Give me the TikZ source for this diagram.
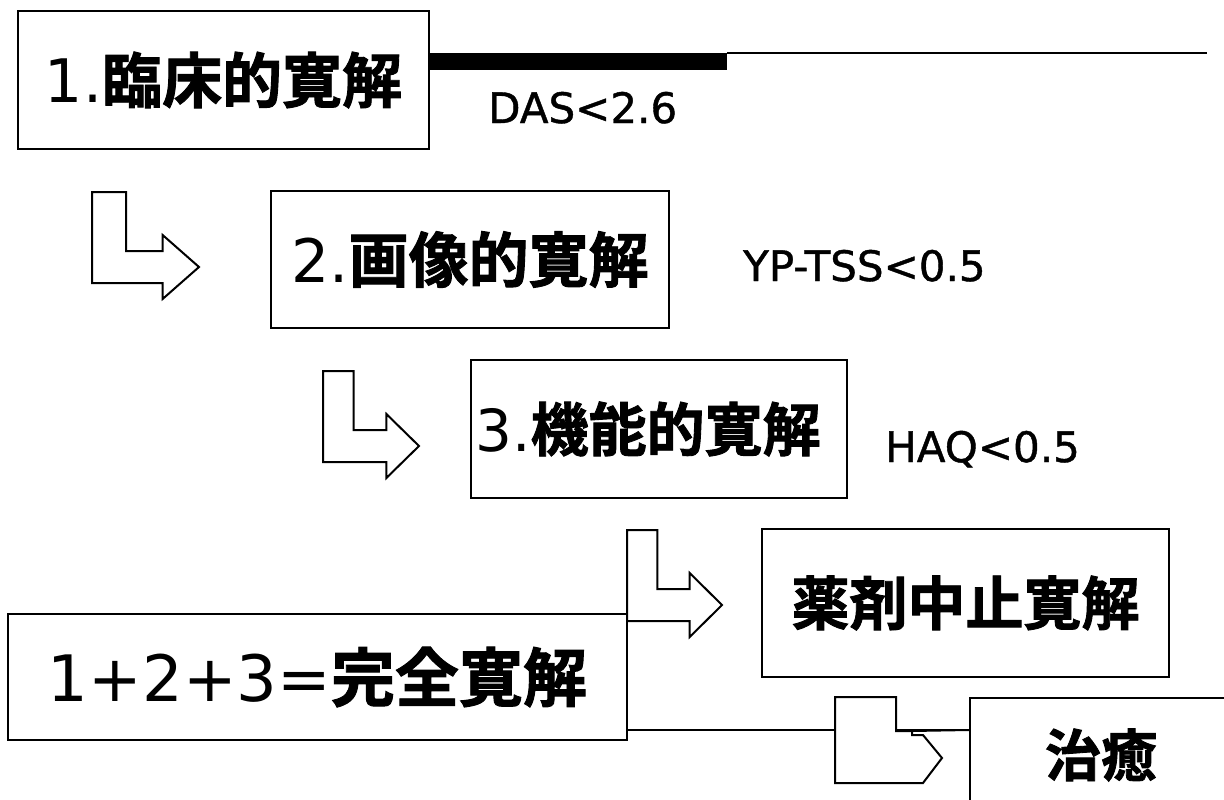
\documentclass[tikz,border=0pt]{standalone}
\usepackage{fontspec}
\setmainfont{Noto Sans CJK JP}
\newfontfamily\heavy[FakeBold=1.5]{Noto Sans CJK JP Bold}
\newfontfamily\labelfont{DejaVu Sans}
\newfontfamily\critfont[FakeBold=1]{DejaVu Sans}

% L-shaped block arrow, #1 = xscale, (#2,#3) = top left corner
\newcommand{\larrow}[3][1]{%
\draw [blockarrow, shift={(#2,#3)}, xscale=#1] (0,0) -- (32,0) -- (32,59) -- (66,59) -- (66,43) -- (100,75) -- (66,107) -- (66,91) -- (0,91) -- cycle;}

\begin{document}
\begin{tikzpicture}
[x=1pt, y=-1pt, every node/.style={inner sep=0pt},
 box/.style={rectangle, draw=black, line width=2pt, fill=white},
 big/.style={font=\labelfont\fontsize{60}{60}\selectfont},
 crit/.style={anchor=base west, font=\critfont\fontsize{42}{42}\selectfont},
 blockarrow/.style={draw=black, line width=2pt, fill=white, line join=miter},
 thin/.style={draw=black, line width=2pt}]
\clip (0,0) rectangle (1224,800);
\fill [white] (0,0) rectangle (1224,800);

% top rule
\coordinate (rule) at (727,53);
\coordinate (ruleend) at (1207,53);
\coordinate (link) at (700,730);

\node (clinical) [box, big, minimum width=411pt, minimum height=138pt] at (223.5,80) {\raisebox{-6pt}{1.{\heavy 臨床的寛解}}};
\fill [black] (clinical.east |- rule) rectangle ([yshift=-17pt]rule);
\draw [thin] (rule) -- (ruleend);
\node (das) [crit] at (488,123) {DAS<2.6};

\larrow[1.07]{92}{192}
\node (imaging) [box, big, minimum width=398pt, minimum height=137pt] at (470,259.5) {\raisebox{-6pt}{2.{\heavy 画像的寛解}}};
\node (tss) [crit] at (743,281) {YP-TSS<0.5};

\larrow[0.96]{323}{371}
\node (functional) [box, minimum width=376pt, minimum height=138pt, font=\labelfont\fontsize{58}{58}\selectfont] at (659,429) {\hspace*{-22pt}3.{\heavy 機能的寛解}};
\node (haq) [crit] at (885,462) {HAQ<0.5};

\node (sum) [box, minimum width=619pt, minimum height=126pt, font=\labelfont\fontsize{64}{64}\selectfont] at (317.5,677) {1+2+3={\heavy 完全寛解}};
\larrow[0.95]{627}{530}
\node (drugfree) [box, minimum width=407pt, minimum height=148pt, font=\heavy\fontsize{58}{58}\selectfont] at (965.5,603) {薬剤中止寛解};

\node (cure) [box, minimum width=262pt, minimum height=114pt, font=\heavy\fontsize{56}{56}\selectfont] at (1101,755) {治癒};
\draw [thin] (sum.east |- link) -- (cure.west |- link);
\draw [blockarrow] (835,697) -- (896,697) -- (896,731) -- (912,731) -- (912,735) -- (923,735) -- (942,758) -- (923,783) -- (835,783) -- cycle;
\draw [thin] (912,731) -- (cure.west |- link);
\end{tikzpicture}
\end{document}
